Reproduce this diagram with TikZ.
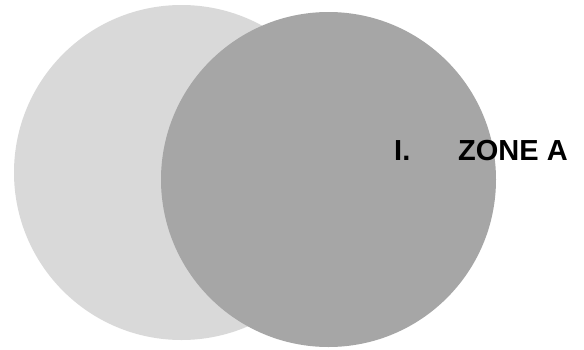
\documentclass[tikz,border=0pt]{standalone}
\usepackage{fontspec}
\setmainfont{Liberation Sans}
\begin{document}
\begin{tikzpicture}[x=1pt,y=-1pt,
  lbl/.style={font=\fontsize{29}{33}\selectfont\bfseries, inner sep=0pt, anchor=base west}]
\useasboundingbox (0,0) rectangle (584,349);
\definecolor{lightg}{HTML}{D9D9D9}
\definecolor{darkg}{HTML}{A6A6A6}
\fill[lightg] (181.5,172.5) circle[radius=167.5];
\fill[darkg] (328.5,179.5) circle[radius=167.5];
\node[lbl] (num) at (394,160.7) {I.};
\node[lbl] (zone) at (458,160.7) {ZONE A};
\end{tikzpicture}
\end{document}
